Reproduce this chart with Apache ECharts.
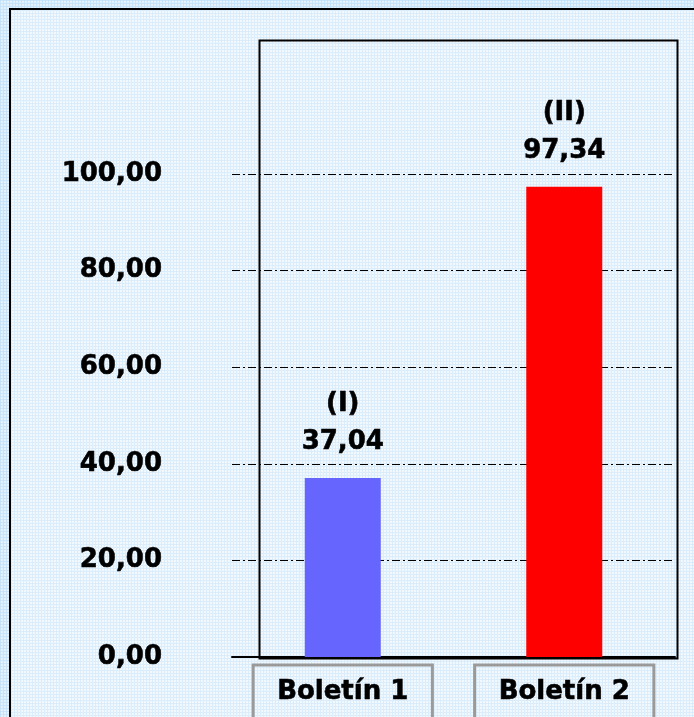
<!DOCTYPE html>
<html>
<head>
<meta charset="utf-8">
<script src="https://cdn.jsdelivr.net/npm/echarts@6/dist/echarts.min.js"></script>
<style>
  html, body { margin: 0; padding: 0; }
  body {
    width: 694px; height: 717px; position: relative; overflow: hidden;
    background-color: #e4f2fd;
    background-image: linear-gradient(to right, #c6e3fa 1px, transparent 1px),
                      linear-gradient(to bottom, #c6e3fa 1px, transparent 1px);
    background-size: 3px 3px;
  }
  #frame {
    position: absolute; left: 9px; top: 8px; width: 700px; height: 720px;
    border-left: 2px solid #000; border-top: 2px solid #000;
    background-color: #f1f8fe;
    background-image: linear-gradient(to right, #dbedfb 1px, transparent 1px),
                      linear-gradient(to bottom, #dbedfb 1px, transparent 1px);
    background-size: 3px 3px;
  }
  #chart { position: absolute; left: 0; top: 0; width: 694px; height: 717px; }
</style>
</head>
<body>
<div id="frame"></div>
<div id="chart"></div>
<script>
const categories = ['Boletín 1', 'Boletín 2']
const values = [37.04, 97.34]
const barTags = ['(I)', '(II)']
const barColors = ['#6666ff', '#ff0000']

const font = 'DejaVu Sans'
// a thin outline makes DejaVu look closer to the heavy Verdana bold
const heavy = { textBorderColor: '#000', textBorderWidth: 0.6 }

function fmt(v) {
  return v.toFixed(2).replace('.', ',')
}

const chart = echarts.init(document.getElementById('chart'))

chart.setOption({
  animation: false,
  grid: {
    left: 232,
    right: 19,
    top: 174,
    bottom: 60,
    outerBoundsMode: 'none'
  },
  xAxis: {
    type: 'category',
    data: categories,
    axisTick: { show: false },
    axisLine: { lineStyle: { color: '#000', width: 2 } },
    axisLabel: Object.assign({
      margin: 8,
      color: '#000',
      fontFamily: font,
      fontWeight: 'bold',
      fontSize: 26,
      borderColor: '#9a9a9a',
      borderWidth: 3,
      padding: [12, 24, 30, 24],
      lineHeight: 30
    }, heavy)
  },
  yAxis: {
    type: 'value',
    min: 0,
    max: 100,
    interval: 20,
    axisLine: { show: false },
    axisTick: { show: false },
    axisLabel: Object.assign({
      margin: 70,
      color: '#000',
      fontFamily: font,
      fontWeight: 'bold',
      fontSize: 26,
      padding: [0, 0, 6, 0],
      formatter: fmt
    }, heavy),
    splitLine: {
      lineStyle: { color: '#000', width: 1, type: [8, 3, 2, 3] }
    }
  },
  graphic: [{
    type: 'rect',
    left: 257,
    top: 38,
    shape: { width: 418, height: 618 },
    style: { fill: null, stroke: '#000', lineWidth: 2 },
    silent: true,
    z: 10
  }],
  series: [{
    type: 'bar',
    barWidth: 76,
    data: values.map((v, i) => ({
      value: v,
      itemStyle: { color: barColors[i] }
    })),
    label: Object.assign({
      show: true,
      position: 'top',
      distance: 17,
      color: '#000',
      fontFamily: font,
      fontWeight: 'bold',
      fontSize: 26,
      lineHeight: 38,
      formatter: p => barTags[p.dataIndex] + '\n' + fmt(p.value)
    }, heavy)
  }]
})
</script>
</body>
</html>
